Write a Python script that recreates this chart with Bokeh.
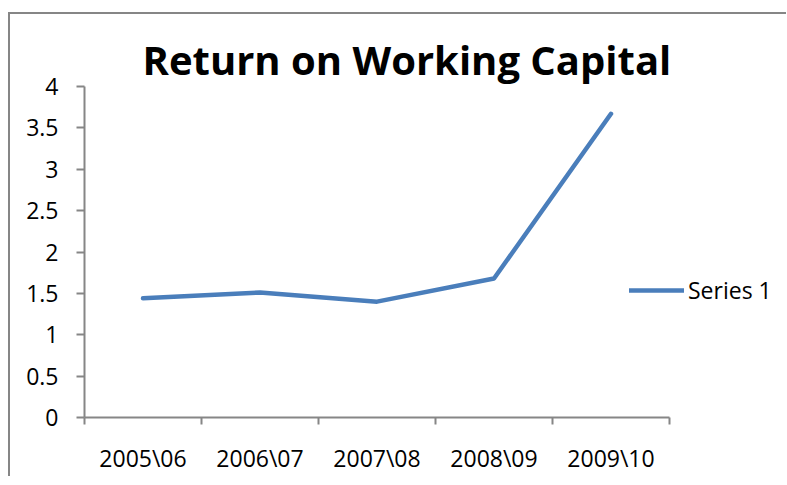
from bokeh.plotting import figure
from bokeh.layouts import column
from bokeh.models import (Range1d, LinearAxis, FixedTicker, NumeralTickFormatter,
                          Legend, LegendItem, Title)
from bokeh.embed import file_html
from bokeh.resources import INLINE

# ---- data ----
categories = ["2005\\06", "2006\\07", "2007\\08", "2008\\09", "2009\\10"]
values = [1.44, 1.51, 1.40, 1.68, 3.67]
y_ticks = [0, 0.5, 1, 1.5, 2, 2.5, 3, 3.5, 4]
title_text = "Return on Working Capital"
series_name = "Series 1"

FONT = "Open Sans"
AXIS_COLOR = "#868686"
LINE_COLOR = "#4a7ebb"

n = len(categories)
xs = [i + 0.5 for i in range(n)]

# layout: category axis occupies 585px of the frame; the rest holds the legend
CAT_PX = 585
FRAME_W = 702
x_end = n * FRAME_W / CAT_PX

p = figure(width=776, height=462, output_backend="svg", toolbar_location=None,
           x_range=Range1d(0, x_end), y_range=Range1d(0, 4),
           x_axis_type=None, y_axis_type=None,
           min_border_left=74, min_border_right=0, min_border_top=72,
           min_border_bottom=57)
p.outline_line_color = None
p.background_fill_color = "white"
p.border_fill_color = "white"

# title
p.title = Title(text=title_text, text_font=FONT, text_font_size="40px",
                text_font_style="bold", text_color="black", align="left",
                offset=58, standoff=0)

# y axis
yaxis = LinearAxis(ticker=FixedTicker(ticks=y_ticks),
                   formatter=NumeralTickFormatter(format="0.[0]"))
yaxis.axis_line_color = AXIS_COLOR
yaxis.axis_line_width = 2
yaxis.major_tick_line_color = AXIS_COLOR
yaxis.major_tick_line_width = 2
yaxis.major_tick_in = 0
yaxis.major_tick_out = 8
yaxis.minor_tick_line_color = None
yaxis.major_label_text_font = FONT
yaxis.major_label_text_font_size = "23px"
yaxis.major_label_text_color = "black"
yaxis.major_label_standoff = 18
p.add_layout(yaxis, "left")

# x axis: labels at category centres, tick marks at category boundaries
xaxis = LinearAxis(ticker=FixedTicker(ticks=xs, minor_ticks=list(range(n + 1))),
                   bounds=(0, n))
xaxis.major_label_overrides = {x: c for x, c in zip(xs, categories)}
xaxis.axis_line_color = AXIS_COLOR
xaxis.axis_line_width = 2
xaxis.major_tick_line_color = None
xaxis.minor_tick_line_color = AXIS_COLOR
xaxis.minor_tick_line_width = 2
xaxis.minor_tick_in = 0
xaxis.minor_tick_out = 7
xaxis.major_tick_in = 0
xaxis.major_tick_out = 7
xaxis.major_label_text_font = FONT
xaxis.major_label_text_font_size = "23px"
xaxis.major_label_text_color = "black"
xaxis.major_label_standoff = 17
p.add_layout(xaxis, "below")

p.xgrid.visible = False
p.ygrid.visible = False

r = p.line(xs, values, line_color=LINE_COLOR, line_width=4.5,
           line_join="round", line_cap="round")

legend = Legend(items=[LegendItem(label=series_name, renderers=[r])],
                location=(545, 111), border_line_color=None,
                background_fill_alpha=0, padding=0, margin=0,
                glyph_width=55, glyph_height=20, label_standoff=4,
                label_text_font=FONT, label_text_font_size="23px",
                label_text_color="black")
p.add_layout(legend, "center")

layout = column(p, styles={"margin-top": "12px", "margin-left": "8px",
                           "border-top": "2px solid #868686",
                           "border-left": "2px solid #868686"})

open("out.html", "w").write(file_html(layout, INLINE))
